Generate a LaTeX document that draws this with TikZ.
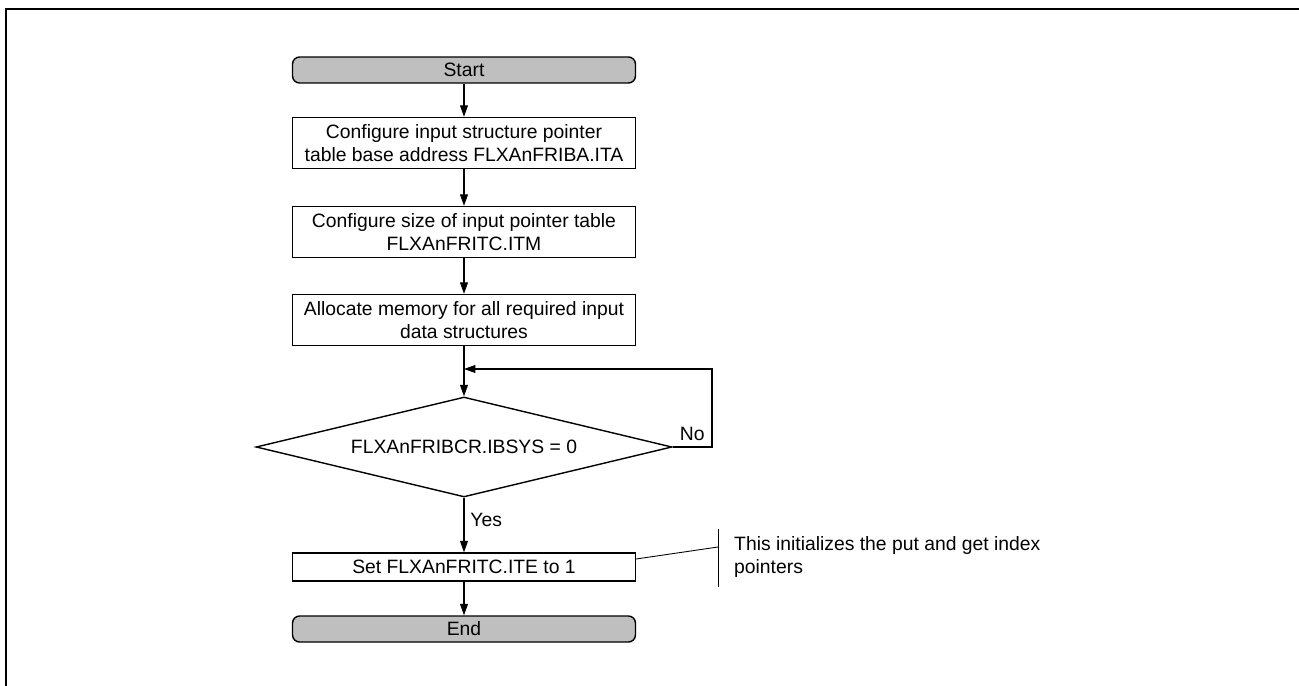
\documentclass[tikz,border=0pt]{standalone}
\usepackage{fontspec}
\setmainfont{Liberation Sans}
\usepackage{tikz}
\usetikzlibrary{positioning,shapes.geometric,arrows.meta,calc}

\begin{document}
\begin{tikzpicture}[
  x=0.02cm, y=-0.02cm,
  font=\fontsize{11}{13}\selectfont,
  box/.style={draw, line width=0.8pt, align=center, minimum width=6.86cm, minimum height=1.02cm, inner sep=1pt},
  term/.style={box, fill=black!25, rounded corners=4pt, minimum height=0.52cm},
  test/.style={draw, line width=0.8pt, diamond, aspect=4.16, minimum width=8.32cm, minimum height=2cm, inner sep=0pt},
  arrow/.style={-{Triangle[length=6.5pt,width=4.5pt]}, line width=0.6pt}
]
\useasboundingbox (0,0) rectangle (1299,686);
% frame
\draw[line width=1.2pt] (6,686) -- (6,9) -- (1299,9);

\node[term] (start) at (464,70) {Start};
\node[box] (cfgbase) at (464,143) {Configure input structure pointer\\table base address FLXAnFRIBA.ITA};
\node[box] (cfgsize) at (464,232) {Configure size of input pointer table\\FLXAnFRITC.ITM};
\node[box] (alloc) at (464,320) {Allocate memory for all required input\\data structures};
\node[test] (check) at (464,447) {FLXAnFRIBCR.IBSYS = 0};
\node[box, minimum height=0.56cm] (setite) at (464,567) {Set FLXAnFRITC.ITE to 1};
\node[term] (stop) at (464,629) {End};

\coordinate (merge) at (464,369);
\coordinate (loop) at (712,369);

\draw[arrow] (start) -- (cfgbase);
\draw[arrow] (cfgbase) -- (cfgsize);
\draw[arrow] (cfgsize) -- (alloc);
\draw[arrow] (alloc) -- (check);
\draw[arrow] (check.east) -| node[above, pos=0.25]{No} (loop) -- (merge);
\draw[arrow] (check) -- node[right, pos=0.4]{Yes} (setite);
\draw[arrow] (setite) -- (stop);

% annotation
\coordinate (barTop) at (718,529);
\coordinate (barBot) at (718,587);
\coordinate (barMid) at (718,547);
\draw[line width=0.5pt] (barTop) -- (barBot);
\draw[line width=0.5pt] ($(setite.east)+(0,-8)$) -- (barMid);
\node[anchor=west, align=left] (note) at (728,557) {This initializes the put and get index\\pointers};
\end{tikzpicture}
\end{document}
